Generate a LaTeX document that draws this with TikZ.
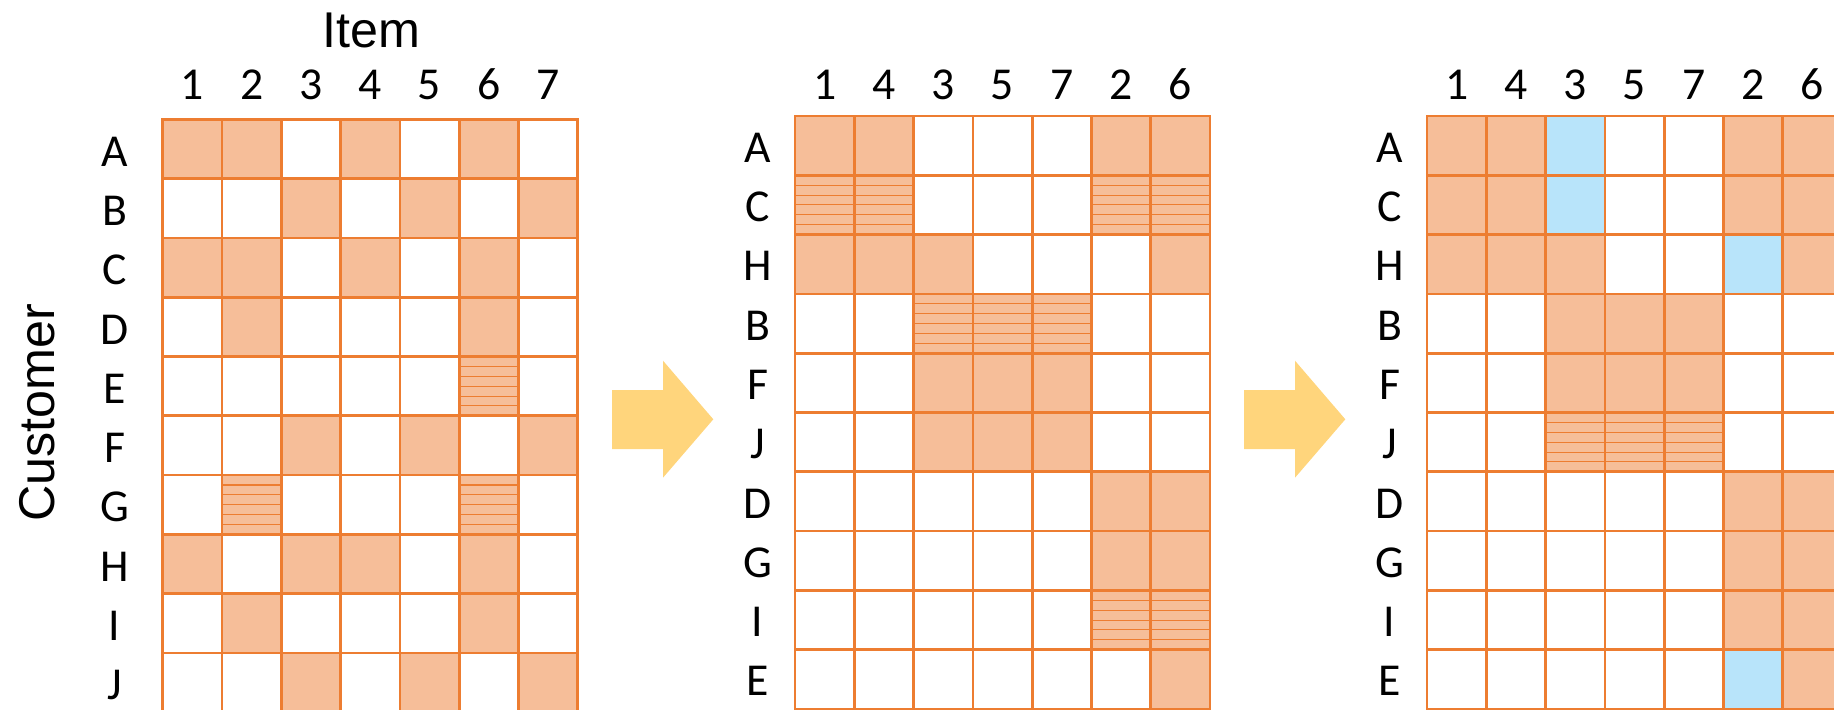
\documentclass[tikz,border=0pt]{standalone}
\usepackage{fontspec}
\usepackage{tikz}
\usetikzlibrary{calc}
\newfontfamily\lblfont{Carlito}
\newfontfamily\ttlfont{Liberation Sans}
\definecolor{gridorange}{HTML}{ED7D31}
\definecolor{cellorange}{HTML}{F6BE99}
\definecolor{cellblue}{HTML}{B8E4FA}
\definecolor{arrowgold}{HTML}{FFD57C}

\begin{document}
\begin{tikzpicture}[x=0.1mm,y=-0.1mm,
    gridline/.style={gridorange,line width=0.75pt},
    hatchline/.style={gridorange,line width=0.3pt},
    lbl/.style={font=\lblfont\fontsize{13}{15}\selectfont,inner sep=0pt,anchor=base},
    ttl/.style={font=\ttlfont\fontsize{14.3}{17}\selectfont,inner sep=0pt,anchor=base}]
  \useasboundingbox (0,0) rectangle (1834,709);

  \node[ttl] (item) at (371,47.7) {Item};
  \node[ttl,rotate=90] (customer) at (54.5,413) {Customer};

  % original matrix
  \begin{scope}[shift={(162.7,119.3)},x=5.93mm,y=-5.93mm]
    \foreach \c/\r in {1/1,2/1,4/1,6/1,3/2,5/2,7/2,1/3,2/3,4/3,6/3,2/4,6/4,
                       3/6,5/6,7/6,1/8,3/8,4/8,6/8,2/9,6/9,3/10,5/10,7/10}
      \fill[cellorange] (\c-1,\r-1) rectangle (\c,\r);
    \foreach \c/\r in {6/5,2/7,6/7} {
      \fill[cellorange] (\c-1,\r-1) rectangle (\c,\r);
      \foreach \k in {1,...,5}
        \draw[hatchline] (\c-1,\r-1+\k/6) -- (\c,\r-1+\k/6);
    }
    \draw[gridline] (0,0) rectangle (7,10);
    \foreach \c in {1,...,6} \draw[gridline] (\c,0) -- (\c,10);
    \foreach \r in {1,...,9} \draw[gridline] (0,\r) -- (7,\r);
    \foreach \t [count=\i] in {1,2,3,4,5,6,7}
      \node[lbl] (ac\i) at (\i-0.5,-0.337) {\t};
    \foreach \t [count=\i] in {A,B,C,D,E,F,G,H,I,J}
      \node[lbl] (ar\i) at (-0.81,\i-0.21) {\t};
  \end{scope}

  % reordered matrix
  \begin{scope}[shift={(795,116)},x=5.93mm,y=-5.93mm]
    \foreach \c/\r in {1/1,2/1,6/1,7/1,1/3,2/3,3/3,7/3,3/5,4/5,5/5,
                       3/6,4/6,5/6,6/7,7/7,6/8,7/8,7/10}
      \fill[cellorange] (\c-1,\r-1) rectangle (\c,\r);
    \foreach \c/\r in {1/2,2/2,6/2,7/2,3/4,4/4,5/4,6/9,7/9} {
      \fill[cellorange] (\c-1,\r-1) rectangle (\c,\r);
      \foreach \k in {1,...,5}
        \draw[hatchline] (\c-1,\r-1+\k/6) -- (\c,\r-1+\k/6);
    }
    \draw[gridline] (0,0) rectangle (7,10);
    \foreach \c in {1,...,6} \draw[gridline] (\c,0) -- (\c,10);
    \foreach \r in {1,...,9} \draw[gridline] (0,\r) -- (7,\r);
    \foreach \t [count=\i] in {1,4,3,5,7,2,6}
      \node[lbl] (bc\i) at (\i-0.5,-0.282) {\t};
    \foreach \t [count=\i] in {A,C,H,B,F,J,D,G,I,E}
      \node[lbl] (br\i) at (-0.63,\i-0.22) {\t};
  \end{scope}

  % completed matrix
  \begin{scope}[shift={(1427,116)},x=5.93mm,y=-5.93mm]
    \foreach \c/\r in {1/1,2/1,6/1,7/1,1/2,2/2,6/2,7/2,1/3,2/3,3/3,7/3,
                       3/4,4/4,5/4,3/5,4/5,5/5,6/7,7/7,6/8,7/8,6/9,7/9,7/10}
      \fill[cellorange] (\c-1,\r-1) rectangle (\c,\r);
    \foreach \c/\r in {3/6,4/6,5/6} {
      \fill[cellorange] (\c-1,\r-1) rectangle (\c,\r);
      \foreach \k in {1,...,5}
        \draw[hatchline] (\c-1,\r-1+\k/6) -- (\c,\r-1+\k/6);
    }
    \foreach \c/\r in {3/1,3/2,6/3,6/10}
      \fill[cellblue] (\c-1,\r-1) rectangle (\c,\r);
    \draw[gridline] (0,0) rectangle (7,10);
    \foreach \c in {1,...,6} \draw[gridline] (\c,0) -- (\c,10);
    \foreach \r in {1,...,9} \draw[gridline] (0,\r) -- (7,\r);
    \foreach \t [count=\i] in {1,4,3,5,7,2,6}
      \node[lbl] (cc\i) at (\i-0.5,-0.282) {\t};
    \foreach \t [count=\i] in {A,C,H,B,F,J,D,G,I,E}
      \node[lbl] (cr\i) at (-0.63,\i-0.22) {\t};
  \end{scope}

  % arrows
  \foreach \s in {0,632}
    \fill[arrowgold] (612+\s,390) -- (663+\s,390) -- (663+\s,360.7) -- (713.3+\s,419.3)
      -- (663+\s,477.7) -- (663+\s,449) -- (612+\s,449) -- cycle;
\end{tikzpicture}
\end{document}
